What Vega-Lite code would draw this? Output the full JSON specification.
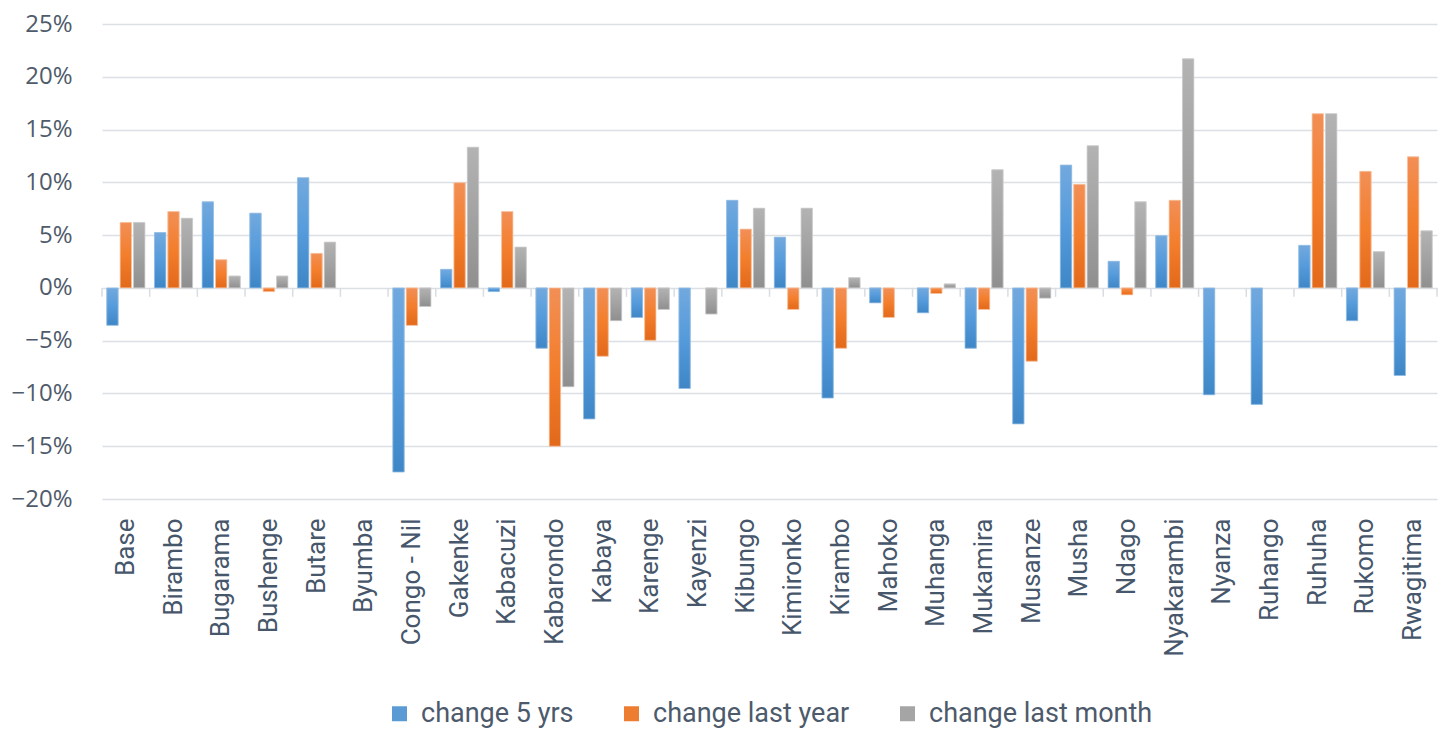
{
  "$schema": "https://vega.github.io/schema/vega-lite/v6.json",
  "width": 1335,
  "height": 475,
  "autosize": {"type": "none"},
  "padding": {"left": 102, "top": 24, "right": 8, "bottom": 232},
  "background": "white",
  "datasets": {
    "rows": [
      {"name": "Base", "series": "change 5 yrs", "value": -0.0355},
      {"name": "Base", "series": "change last year", "value": 0.062},
      {"name": "Base", "series": "change last month", "value": 0.062},
      {"name": "Birambo", "series": "change 5 yrs", "value": 0.0525},
      {"name": "Birambo", "series": "change last year", "value": 0.0723},
      {"name": "Birambo", "series": "change last month", "value": 0.066},
      {"name": "Bugarama", "series": "change 5 yrs", "value": 0.0815},
      {"name": "Bugarama", "series": "change last year", "value": 0.0267},
      {"name": "Bugarama", "series": "change last month", "value": 0.0113},
      {"name": "Bushenge", "series": "change 5 yrs", "value": 0.0708},
      {"name": "Bushenge", "series": "change last year", "value": -0.0035},
      {"name": "Bushenge", "series": "change last month", "value": 0.0113},
      {"name": "Butare", "series": "change 5 yrs", "value": 0.1044},
      {"name": "Butare", "series": "change last year", "value": 0.0327},
      {"name": "Butare", "series": "change last month", "value": 0.0434},
      {"name": "Byumba", "series": "change 5 yrs", "value": null},
      {"name": "Byumba", "series": "change last year", "value": null},
      {"name": "Byumba", "series": "change last month", "value": null},
      {"name": "Congo - Nil", "series": "change 5 yrs", "value": -0.1745},
      {"name": "Congo - Nil", "series": "change last year", "value": -0.0355},
      {"name": "Congo - Nil", "series": "change last month", "value": -0.0176},
      {"name": "Gakenke", "series": "change 5 yrs", "value": 0.0176},
      {"name": "Gakenke", "series": "change last year", "value": 0.0997},
      {"name": "Gakenke", "series": "change last month", "value": 0.1333},
      {"name": "Kabacuzi", "series": "change 5 yrs", "value": -0.0035},
      {"name": "Kabacuzi", "series": "change last year", "value": 0.0723},
      {"name": "Kabacuzi", "series": "change last month", "value": 0.0387},
      {"name": "Kabarondo", "series": "change 5 yrs", "value": -0.0572},
      {"name": "Kabarondo", "series": "change last year", "value": -0.15},
      {"name": "Kabarondo", "series": "change last month", "value": -0.0937},
      {"name": "Kabaya", "series": "change 5 yrs", "value": -0.1242},
      {"name": "Kabaya", "series": "change last year", "value": -0.0648},
      {"name": "Kabaya", "series": "change last month", "value": -0.0311},
      {"name": "Karenge", "series": "change 5 yrs", "value": -0.028},
      {"name": "Karenge", "series": "change last year", "value": -0.0497},
      {"name": "Karenge", "series": "change last month", "value": -0.0204},
      {"name": "Kayenzi", "series": "change 5 yrs", "value": -0.0953},
      {"name": "Kayenzi", "series": "change last year", "value": null},
      {"name": "Kayenzi", "series": "change last month", "value": -0.0248},
      {"name": "Kibungo", "series": "change 5 yrs", "value": 0.083},
      {"name": "Kibungo", "series": "change last year", "value": 0.0557},
      {"name": "Kibungo", "series": "change last month", "value": 0.0755},
      {"name": "Kimironko", "series": "change 5 yrs", "value": 0.0481},
      {"name": "Kimironko", "series": "change last year", "value": -0.0204},
      {"name": "Kimironko", "series": "change last month", "value": 0.0755},
      {"name": "Kirambo", "series": "change 5 yrs", "value": -0.1044},
      {"name": "Kirambo", "series": "change last year", "value": -0.0572},
      {"name": "Kirambo", "series": "change last month", "value": 0.0097},
      {"name": "Mahoko", "series": "change 5 yrs", "value": -0.0142},
      {"name": "Mahoko", "series": "change last year", "value": -0.028},
      {"name": "Mahoko", "series": "change last month", "value": null},
      {"name": "Muhanga", "series": "change 5 yrs", "value": -0.0236},
      {"name": "Muhanga", "series": "change last year", "value": -0.0053},
      {"name": "Muhanga", "series": "change last month", "value": 0.0038},
      {"name": "Mukamira", "series": "change 5 yrs", "value": -0.0572},
      {"name": "Mukamira", "series": "change last year", "value": -0.0204},
      {"name": "Mukamira", "series": "change last month", "value": 0.1119},
      {"name": "Musanze", "series": "change 5 yrs", "value": -0.1289},
      {"name": "Musanze", "series": "change last year", "value": -0.0695},
      {"name": "Musanze", "series": "change last month", "value": -0.0097},
      {"name": "Musha", "series": "change 5 yrs", "value": 0.1164},
      {"name": "Musha", "series": "change last year", "value": 0.0981},
      {"name": "Musha", "series": "change last month", "value": 0.1346},
      {"name": "Ndago", "series": "change 5 yrs", "value": 0.0252},
      {"name": "Ndago", "series": "change last year", "value": -0.0066},
      {"name": "Ndago", "series": "change last month", "value": 0.0815},
      {"name": "Nyakarambi", "series": "change 5 yrs", "value": 0.0494},
      {"name": "Nyakarambi", "series": "change last year", "value": 0.083},
      {"name": "Nyakarambi", "series": "change last month", "value": 0.217},
      {"name": "Nyanza", "series": "change 5 yrs", "value": -0.1013},
      {"name": "Nyanza", "series": "change last year", "value": null},
      {"name": "Nyanza", "series": "change last month", "value": null},
      {"name": "Ruhango", "series": "change 5 yrs", "value": -0.1104},
      {"name": "Ruhango", "series": "change last year", "value": null},
      {"name": "Ruhango", "series": "change last month", "value": null},
      {"name": "Ruhuha", "series": "change 5 yrs", "value": 0.0403},
      {"name": "Ruhuha", "series": "change last year", "value": 0.165},
      {"name": "Ruhuha", "series": "change last month", "value": 0.165},
      {"name": "Rukomo", "series": "change 5 yrs", "value": -0.0311},
      {"name": "Rukomo", "series": "change last year", "value": 0.1104},
      {"name": "Rukomo", "series": "change last month", "value": 0.0343},
      {"name": "Rwagitima", "series": "change 5 yrs", "value": -0.083},
      {"name": "Rwagitima", "series": "change last year", "value": 0.1242},
      {"name": "Rwagitima", "series": "change last month", "value": 0.0541}
    ],
    "zero": [{"v": 0}]
  },
  "data": {"name": "rows"},
  "config": {
    "view": {"stroke": null},
    "axis": {"labelColor": "#4D5A6B", "titleColor": "#4D5A6B"},
    "legend": {"layout": {"bottom": {"anchor": "middle"}}}
  },
  "encoding": {
    "x": {
      "field": "name",
      "type": "nominal",
      "sort": ["Base","Birambo","Bugarama","Bushenge","Butare","Byumba","Congo - Nil","Gakenke","Kabacuzi","Kabarondo","Kabaya","Karenge","Kayenzi","Kibungo","Kimironko","Kirambo","Mahoko","Muhanga","Mukamira","Musanze","Musha","Ndago","Nyakarambi","Nyanza","Ruhango","Ruhuha","Rukomo","Rwagitima"],
      "scale": {
        "domain": ["Base","Birambo","Bugarama","Bushenge","Butare","Byumba","Congo - Nil","Gakenke","Kabacuzi","Kabarondo","Kabaya","Karenge","Kayenzi","Kibungo","Kimironko","Kirambo","Mahoko","Muhanga","Mukamira","Musanze","Musha","Ndago","Nyakarambi","Nyanza","Ruhango","Ruhuha","Rukomo","Rwagitima"],
        "paddingInner": 0.2,
        "paddingOuter": 0.1
      },
      "axis": {
        "title": null,
        "labelAngle": -90,
        "labelAlign": "right",
        "labelBaseline": "middle",
        "labelFont": "Roboto",
        "labelFontSize": 26,
        "labelPadding": 19,
        "labelColor": "#46566B",
        "domain": false,
        "ticks": false,
        "grid": false
      }
    }
  },
  "layer": [
    {
      "mark": {"type": "bar"},
      "encoding": {
        "y": {
          "field": "value",
          "type": "quantitative",
          "scale": {"domain": [-0.2, 0.25], "nice": false, "zero": true},
          "axis": {
            "title": null,
            "format": ".0%",
            "values": [-0.2, -0.15, -0.1, -0.05, 0, 0.05, 0.1, 0.15, 0.2, 0.25],
            "labelFont": "Open Sans",
            "labelFontSize": 24,
            "labelPadding": 30,
            "labelColor": "#4F5B6B",
            "domain": false,
            "ticks": false,
            "gridColor": "#DCDFE3",
            "gridWidth": 1.3
          }
        },
        "xOffset": {
          "field": "series",
          "type": "nominal",
          "sort": ["change 5 yrs", "change last year", "change last month"],
          "scale": {"paddingInner": 0.15, "paddingOuter": 0}
        },
        "color": {
          "field": "series",
          "type": "nominal",
          "sort": ["change 5 yrs", "change last year", "change last month"],
          "scale": {
            "domain": ["change 5 yrs", "change last year", "change last month"],
            "range": ["#5B9BD5", "#ED7D31", "#A5A5A5"]
          },
          "legend": {
            "title": null,
            "orient": "bottom",
            "direction": "horizontal",
            "offset": 43,
            "labelFont": "Roboto",
            "labelFontSize": 27,
            "labelColor": "#4D5A6B",
            "labelLimit": 0,
            "symbolType": "square",
            "symbolSize": 225,
            "symbolStrokeWidth": 0,
            "labelOffset": 8,
            "columnPadding": 44
          }
        }
      }
    },
    {
      "transform": [{"filter": "datum.series === 'change 5 yrs'"}],
      "mark": {
        "type": "bar",
        "stroke": "#9DC3E6",
        "strokeWidth": 0.8,
        "color": {"gradient": "linear", "x1": 0, "y1": 0, "x2": 0, "y2": 1, "stops": [{"offset": 0, "color": "#72A9DE"}, {"offset": 0.5, "color": "#559BDB"}, {"offset": 1, "color": "#3E86C6"}]}
      },
      "encoding": {
        "y": {"field": "value", "type": "quantitative"},
        "xOffset": {"field": "series", "type": "nominal", "sort": ["change 5 yrs", "change last year", "change last month"]}
      }
    },
    {
      "transform": [{"filter": "datum.series === 'change last year'"}],
      "mark": {
        "type": "bar",
        "stroke": "#F8CBAD",
        "strokeWidth": 0.8,
        "color": {"gradient": "linear", "x1": 0, "y1": 0, "x2": 0, "y2": 1, "stops": [{"offset": 0, "color": "#F28F56"}, {"offset": 0.5, "color": "#F37E2C"}, {"offset": 1, "color": "#E2691A"}]}
      },
      "encoding": {
        "y": {"field": "value", "type": "quantitative"},
        "xOffset": {"field": "series", "type": "nominal", "sort": ["change 5 yrs", "change last year", "change last month"]}
      }
    },
    {
      "transform": [{"filter": "datum.series === 'change last month'"}],
      "mark": {
        "type": "bar",
        "stroke": "#D0D0D0",
        "strokeWidth": 0.8,
        "color": {"gradient": "linear", "x1": 0, "y1": 0, "x2": 0, "y2": 1, "stops": [{"offset": 0, "color": "#B3B3B3"}, {"offset": 0.5, "color": "#A2A2A2"}, {"offset": 1, "color": "#8F8F8F"}]}
      },
      "encoding": {
        "y": {"field": "value", "type": "quantitative"},
        "xOffset": {"field": "series", "type": "nominal", "sort": ["change 5 yrs", "change last year", "change last month"]}
      }
    },
    {
      "data": {"name": "zero"},
      "mark": {"type": "rule", "color": "#D9DCE1", "strokeWidth": 1.5},
      "encoding": {"y": {"field": "v", "type": "quantitative"}}
    },
    {
      "transform": [{"filter": "datum.series === 'change 5 yrs'"}],
      "mark": {"type": "rule", "color": "#D9DCE1", "strokeWidth": 1.5},
      "encoding": {
        "x": {"field": "name", "type": "nominal", "bandPosition": -0.125},
        "y": {"datum": 0},
        "y2": {"datum": -0.0085}
      }
    },
    {
      "transform": [{"filter": "datum.series === 'change 5 yrs' && datum.name === 'Rwagitima'"}],
      "mark": {"type": "rule", "color": "#D9DCE1", "strokeWidth": 1.5},
      "encoding": {
        "x": {"field": "name", "type": "nominal", "bandPosition": 1.125},
        "y": {"datum": 0},
        "y2": {"datum": -0.0085}
      }
    }
  ]
}
